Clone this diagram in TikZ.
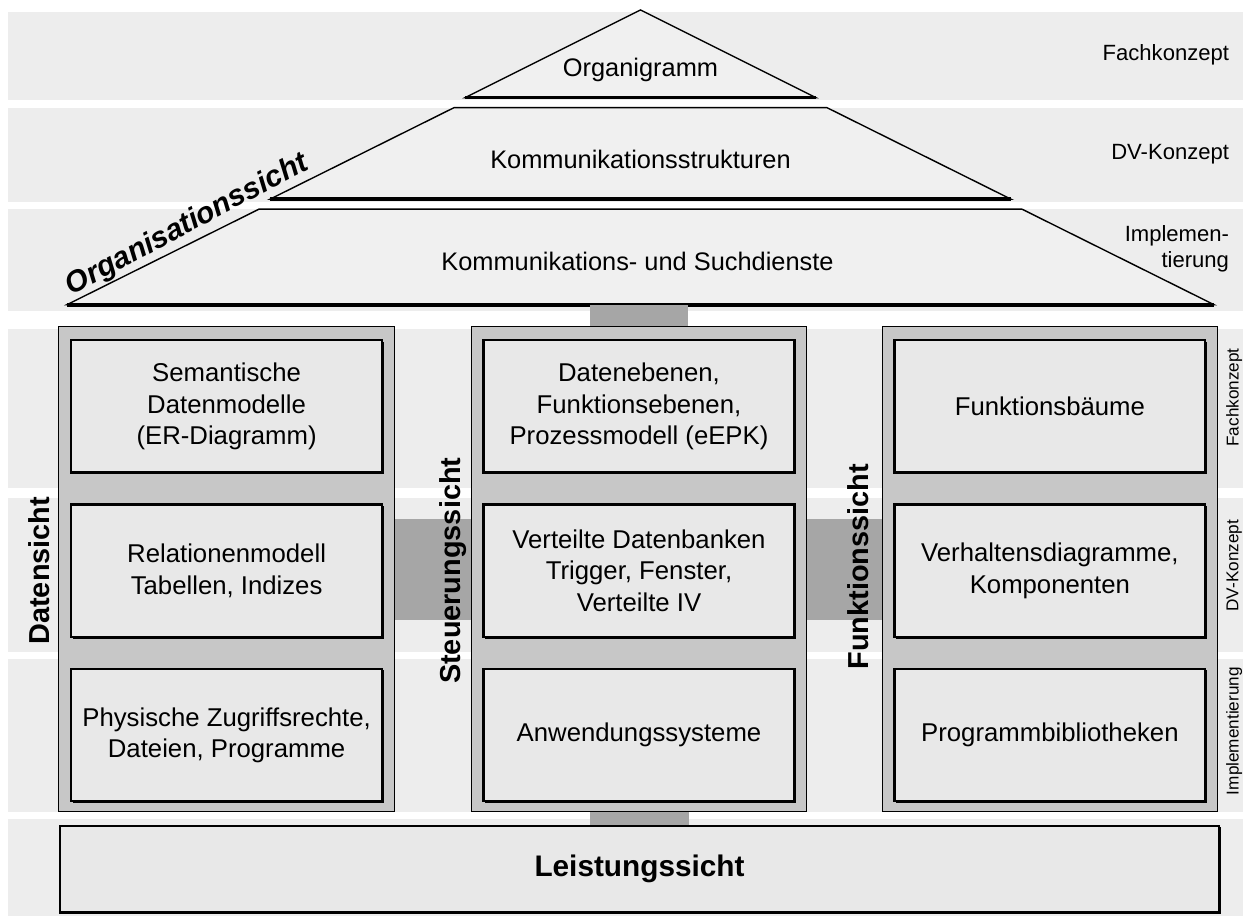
\documentclass[tikz,border=0pt]{standalone}
\usepackage{fontspec}
\setmainfont{Liberation Sans}
\usetikzlibrary{shadows}

\begin{document}
\begin{tikzpicture}[feld/.style={rectangle, draw, line width=1.3pt, fill=black!9,
                      minimum width=6.24cm, minimum height=2.66cm, align=center,
                      font=\fontsize{14.7}{18}\selectfont,
                      drop shadow={shadow xshift=0.9pt, shadow yshift=-0.9pt, fill=black, opacity=1}},
                    saeule/.style={rectangle, draw, thin, fill=black!22, minimum width=6.74cm, minimum height=9.74cm},
                    ebene/.style={draw, thick, fill=black!6},
                    balken/.style={fill=black!35},
                    sicht/.style={font=\fontsize{16.5}{20}\selectfont\bfseries, rotate=90},
                    stufe/.style={font=\fontsize{9.8}{12}\selectfont, rotate=90},
                    stufer/.style={font=\fontsize{12.6}{15}\selectfont, align=right, anchor=east}]

% Hintergrund
\fill[white] (0,0) rectangle (24.96,18.4);
\foreach \o/\u in {18.16/16.4, 16.24/14.34, 14.2/12.16, 11.8/8.6, 8.4/5.3, 5.16/2.1, 1.96/0}
  \fill[black!7] (0.16,\o) rectangle (24.96,\u);

% Pyramide
\draw[ebene] (12.86,18.2) -- (16.38,16.44) -- (9.34,16.44) -- cycle;
\draw[line width=2pt] (9.34,16.44) -- (16.38,16.44);
\draw[ebene] (9.12,16.24) -- (16.6,16.24) -- (20.3,14.4) -- (5.42,14.4) -- cycle;
\draw[line width=2pt] (5.42,14.4) -- (20.3,14.4);
\draw[ebene] (5.2,14.2) -- (20.52,14.2) -- (24.38,12.28) -- (1.34,12.28) -- cycle;
\draw[line width=2pt] (1.34,12.28) -- (24.38,12.28);
\coordinate (pyfuss) at (12.83,12.28);

\node[font=\fontsize{14.5}{17}\selectfont] (orga) at (12.86,17.0) {Organigramm};
\node[font=\fontsize{14.5}{17}\selectfont] (komm) at (12.86,15.2) {Kommunikationsstrukturen};
\node[font=\fontsize{14.5}{17}\selectfont] (such) at (12.8,13.16) {Kommunikations- und Suchdienste};
\node[rotate=28, font=\fontsize{17}{20}\selectfont\bfseries\itshape] (orgsicht) at (3.76,13.88) {Organisationssicht};

\node[stufer] (fk) at (24.8,17.3) {Fachkonzept};
\node[stufer] (dv) at (24.8,15.3) {DV-Konzept};
\node[stufer] (impl) at (24.8,13.4) {Implemen-\\tierung};

% Saeulen
\node[saeule] (dcol) at (4.55,6.97) {};
\node[saeule] (scol) at (12.83,6.97) {};
\node[saeule] (fcol) at (21.08,6.97) {};

\draw (12.84,0.95) node[rectangle, draw, line width=1.3pt, fill=black!9, minimum width=23.28cm,
        minimum height=1.74cm, font=\fontsize{17}{20}\selectfont\bfseries,
        drop shadow={shadow xshift=0.9pt, shadow yshift=-0.9pt, fill=black, opacity=1}] (leist) {Leistungssicht};

\fill[balken] ([xshift=-0.99cm]pyfuss) rectangle ([xshift=0.99cm]scol.north);
\fill[balken] ([xshift=-0.99cm]scol.south) rectangle ([xshift=0.99cm]leist.north);
\fill[balken] ([yshift=1.01cm]dcol.east) rectangle ([yshift=-1.01cm]scol.west);
\fill[balken] ([yshift=1.01cm]scol.east) rectangle ([yshift=-1.01cm]fcol.west);

\draw (4.55,10.24) node[feld] (sem) {Semantische\\Datenmodelle\\(ER-Diagramm)}
      (4.55,6.94) node[feld] (rel) {Relationenmodell\\Tabellen, Indizes}
      (4.55,3.64) node[feld] (phys) {Physische Zugriffsrechte,\\Dateien, Programme};
\draw (12.83,10.24) node[feld] (ebenen) {Datenebenen,\\Funktionsebenen,\\Prozessmodell (eEPK)}
      (12.83,6.94) node[feld] (vert) {Verteilte Datenbanken\\Trigger, Fenster,\\Verteilte IV}
      (12.83,3.64) node[feld] (anw) {Anwendungssysteme};
\draw (21.08,10.24) node[feld] (fbaum) {Funktionsbäume}
      (21.08,6.94) node[feld] (verh) {Verhaltensdiagramme,\\Komponenten}
      (21.08,3.64) node[feld] (prog) {Programmbibliotheken};

\node[sicht] (dsicht) at (0.78,6.94) {Datensicht};
\node[sicht] (ssicht) at (9.1,6.94) {Steuerungssicht};
\node[sicht] (fsicht) at (17.24,7.02) {Funktionssicht};

\node[stufe] (fk2) at (24.78,10.42) {Fachkonzept};
\node[stufe] (dv2) at (24.78,7.04) {DV-Konzept};
\node[stufe] (impl2) at (24.78,3.72) {Implementierung};

\end{tikzpicture}
\end{document}
